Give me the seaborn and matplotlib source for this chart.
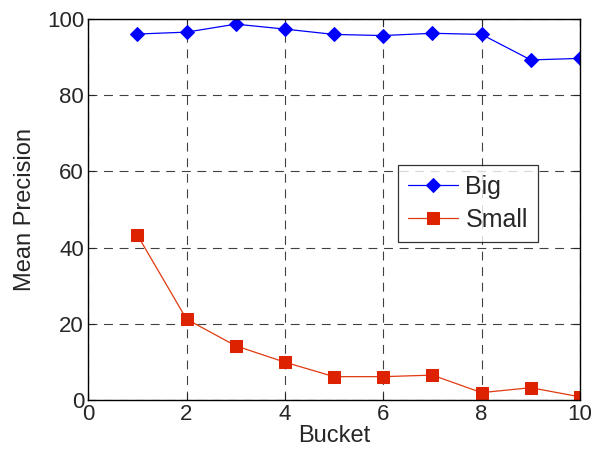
import matplotlib
matplotlib.use("Agg")
import matplotlib.pyplot as plt
import seaborn as sns

# ── Data ──────────────────────────────────────────────────────────────────────
buckets   = [1, 2, 3, 4, 5, 6, 7, 8, 9, 10]
big       = [96.1, 96.6, 98.7, 97.4, 96.0, 95.7, 96.3, 96.0, 89.3, 89.7]
small     = [43.3, 21.2, 14.2, 9.9, 6.1, 6.1, 6.5, 1.9, 3.2, 0.8]
x_ticks   = [0, 2, 4, 6, 8, 10]
y_ticks   = [0, 20, 40, 60, 80, 100]

sns.set_style("ticks")
plt.rcParams["font.family"] = ["Liberation Sans", "DejaVu Sans"]

fig = plt.figure(figsize=(5.96, 4.57), dpi=100)
ax = fig.add_axes([0.148, 0.125, 0.825, 0.833])

sns.lineplot(x=buckets, y=big, ax=ax, color="#0000FF", marker="D",
             markersize=7.5, markeredgecolor="#0000FF", linewidth=0.9, label="Big")
sns.lineplot(x=buckets, y=small, ax=ax, color="#E03A10", marker="s",
             markersize=8, markerfacecolor="#DD2200", markeredgecolor="#DD2200",
             linewidth=0.9, label="Small")

ax.set_xlim(0, 10)
ax.set_ylim(0, 100)
ax.set_xticks(x_ticks)
ax.set_yticks(y_ticks)
ax.tick_params(direction="in", top=True, right=True, labelsize=16, length=5,
               width=0.8, pad=3)
ax.grid(True, linestyle=(0, (8, 6)), color="black", linewidth=0.8, alpha=0.75)
for sp in ax.spines.values():
    sp.set_linewidth(1.0)
    sp.set_color("black")

ax.set_xlabel("Bucket", fontsize=17, labelpad=0)
ax.set_ylabel("Mean Precision", fontsize=17, labelpad=8)

leg = ax.legend(loc="upper left", bbox_to_anchor=(0.63, 0.617), fontsize=18,
                frameon=True, fancybox=False, edgecolor="black", borderaxespad=0,
                handlelength=2.0, handletextpad=0.3, borderpad=0.4,
                labelspacing=0.35)
leg.get_frame().set_linewidth(0.9)

fig.savefig("out.png", dpi=100)
